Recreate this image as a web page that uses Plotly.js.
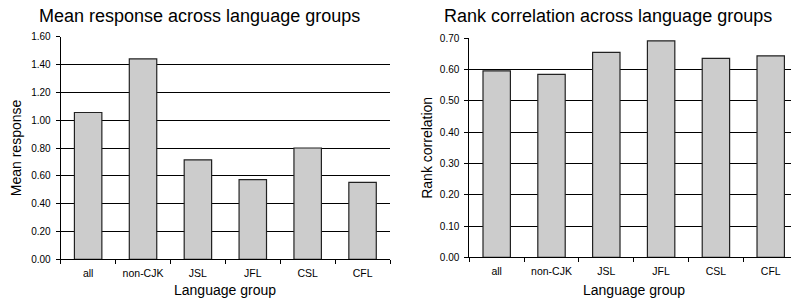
<!DOCTYPE html>
<html>
<head>
<meta charset="utf-8">
<script src="https://cdn.plot.ly/plotly-3.0.1.min.js"></script>
<style>
html,body{margin:0;padding:0;background:#fff;}
#chart{width:791px;height:302px;}
</style>
</head>
<body>
<div id="chart"></div>
<script>
const categories = ['all', 'non-CJK', 'JSL', 'JFL', 'CSL', 'CFL'];
const meanResponse = [1.055, 1.44, 0.715, 0.572, 0.80, 0.553];
const rankCorrelation = [0.596, 0.585, 0.655, 0.692, 0.636, 0.644];
const leftTitle = 'Mean response across language groups';
const rightTitle = 'Rank correlation across language groups';
const xTitle = 'Language group';
const leftYTitle = 'Mean response';
const rightYTitle = 'Rank correlation';

const W = 791, H = 302;
const px = v => v / W;
const py = v => (H - v) / H;

const FONT = '"Liberation Sans", Arial, sans-serif';
const barStyle = {color: '#cccccc', line: {color: '#222222', width: 1.2}};

const traces = [
  {type: 'bar', x: categories, y: meanResponse, marker: barStyle, xaxis: 'x', yaxis: 'y', hoverinfo: 'x+y'},
  {type: 'bar', x: categories, y: rankCorrelation, marker: barStyle, xaxis: 'x2', yaxis: 'y2', hoverinfo: 'x+y'}
];

const xCommon = {
  type: 'category', showline: true, linecolor: '#000', linewidth: 1,
  ticks: 'outside', tickson: 'boundaries', ticklen: 4, tickcolor: '#000', tickwidth: 1,
  showgrid: false, zeroline: false, ticklabelstandoff: 4,
  tickfont: {family: FONT, size: 10.5, color: '#000'}
};
const yCommon = {
  showline: true, linecolor: '#000', linewidth: 1,
  ticks: 'outside', ticklen: 4, tickcolor: '#000', tickwidth: 1,
  showgrid: true, gridcolor: '#000', gridwidth: 1, zeroline: false,
  tickformat: '.2f', ticklabelstandoff: 3,
  tickfont: {family: FONT, size: 10, color: '#000'}
};

const layout = {
  width: W, height: H,
  margin: {l: 0, r: 0, t: 0, b: 0},
  paper_bgcolor: '#fff', plot_bgcolor: '#fff',
  showlegend: false,
  bargap: 0.5,
  font: {family: FONT, color: '#000'},
  xaxis: Object.assign({}, xCommon, {domain: [px(60.7), px(390)], anchor: 'y', range: [-0.5, 5.5]}),
  yaxis: Object.assign({}, yCommon, {domain: [py(259.3), py(36.7)], anchor: 'x', range: [0, 1.6], dtick: 0.2}),
  xaxis2: Object.assign({}, xCommon, {domain: [px(469.3), 1], anchor: 'y2', range: [-0.5, 5.37]}),
  yaxis2: Object.assign({}, yCommon, {domain: [py(257.3), py(38.3)], anchor: 'x2', range: [0, 0.7], dtick: 0.1}),
  annotations: [
    {text: leftTitle, xref: 'paper', yref: 'paper', x: px(200), y: py(16), xanchor: 'center', yanchor: 'middle', showarrow: false, font: {family: FONT, size: 18, color: '#000'}},
    {text: rightTitle, xref: 'paper', yref: 'paper', x: px(608), y: py(16.4), xanchor: 'center', yanchor: 'middle', showarrow: false, font: {family: FONT, size: 18, color: '#000'}},
    {text: xTitle, xref: 'paper', yref: 'paper', x: px(225.3), y: py(290), xanchor: 'center', yanchor: 'middle', showarrow: false, font: {family: FONT, size: 14, color: '#000'}},
    {text: xTitle, xref: 'paper', yref: 'paper', x: px(634.2), y: py(290), xanchor: 'center', yanchor: 'middle', showarrow: false, font: {family: FONT, size: 14, color: '#000'}},
    {text: leftYTitle, xref: 'paper', yref: 'paper', x: px(16.2), y: py(148), xanchor: 'center', yanchor: 'middle', textangle: -90, showarrow: false, font: {family: FONT, size: 14, color: '#000'}},
    {text: rightYTitle, xref: 'paper', yref: 'paper', x: px(427), y: py(147.8), xanchor: 'center', yanchor: 'middle', textangle: -90, showarrow: false, font: {family: FONT, size: 14, color: '#000'}}
  ]
};

Plotly.newPlot('chart', traces, layout, {displayModeBar: false, staticPlot: true});
</script>
</body>
</html>
